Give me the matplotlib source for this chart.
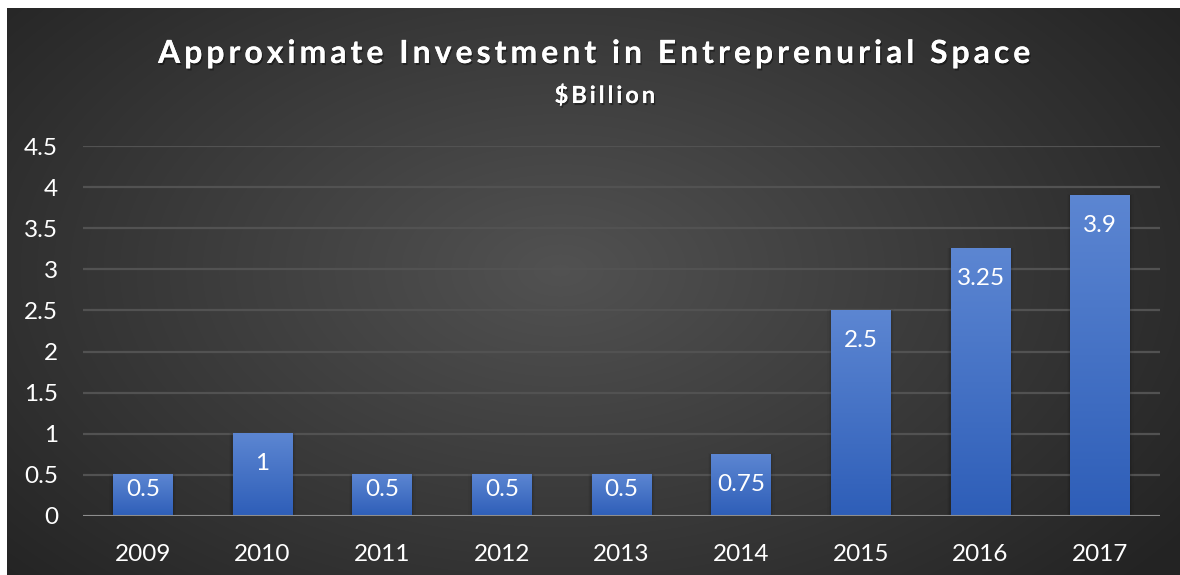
import numpy as np
import matplotlib.pyplot as plt
import matplotlib.patheffects as pe

years = ["2009", "2010", "2011", "2012", "2013", "2014", "2015", "2016", "2017"]
investment = [0.5, 1, 0.5, 0.5, 0.5, 0.75, 2.5, 3.25, 3.9]
value_labels = ["0.5", "1", "0.5", "0.5", "0.5", "0.75", "2.5", "3.25", "3.9"]
y_ticks = [0, 0.5, 1, 1.5, 2, 2.5, 3, 3.5, 4, 4.5]
y_tick_labels = ["0", "0.5", "1", "1.5", "2", "2.5", "3", "3.5", "4", "4.5"]

title = "Approximate Investment in Entreprenurial Space"
subtitle = "$Billion"

plt.rcParams['font.family'] = ['Lato', 'DejaVu Sans']


def spaced(s, sep="\u2009"):
    # fake letter spacing with thin spaces
    return sep.join(s)


W, H = 1180, 575
fig = plt.figure(figsize=(W / 100, H / 100), dpi=100)

# background: dark radial gradient with white margin on left/top
bg = fig.add_axes([0, 0, 1, 1])
bg.axis("off")
yy, xx = np.mgrid[0:H, 0:W]
r = np.sqrt(((xx - 560) / 760) ** 2 + ((yy - 270) / 460) ** 2)
shade = 0.32 - 0.18 * np.clip(r, 0, 1)
img = np.dstack([shade] * 3)
img[:8, :] = 1
img[:, :7] = 1
bg.imshow(img, extent=[0, 1, 0, 1], aspect="auto", interpolation="bilinear")
bg.set_xlim(0, 1)
bg.set_ylim(0, 1)

ax = fig.add_axes([83 / W, 59 / H, 1077 / W, 370 / H])
ax.patch.set_alpha(0)

x = np.arange(len(years))
bars = ax.bar(x, investment, width=0.5, color="none", zorder=3)

grad = np.linspace(0, 1, 100).reshape(-1, 1)
top_c = np.array([0x5c, 0x86, 0xd2]) / 255
bot_c = np.array([0x2e, 0x5e, 0xb8]) / 255
grad_img = (top_c * (1 - grad[..., None]) + bot_c * grad[..., None])
for b in bars:
    x0, w, h = b.get_x(), b.get_width(), b.get_height()
    # soft shadow at the sides
    for k, a in enumerate([0.08, 0.05, 0.03]):
        d = 0.01 * (k + 1)
        ax.add_patch(plt.Rectangle((x0 - d, 0), w + 2 * d, h + d * 0.5,
                                   color="black", alpha=a, lw=0, zorder=2))
    ax.imshow(grad_img, extent=[x0, x0 + w, 0, h], aspect="auto",
              zorder=3, clip_path=b, interpolation="bilinear")

for xi, v, lab in zip(x, investment, value_labels):
    off = min(0.365, v - 0.32)
    ax.text(xi, v - off, lab, ha="center", va="center", color="white",
            fontsize=17.5, zorder=5)

ax.set_xlim(-0.5, len(years) - 0.5)
ax.set_ylim(0, 4.5)
ax.set_yticks(y_ticks)
ax.set_yticklabels(y_tick_labels)
ax.set_xticks(x)
ax.set_xticklabels(years)
ax.tick_params(length=0, colors="white", labelsize=17.5)
ax.tick_params(axis="y", pad=18)
ax.tick_params(axis="x", pad=20)
ax.yaxis.grid(True, color="#525252", lw=1.6, zorder=0)
ax.set_axisbelow(True)
for s in ax.spines.values():
    s.set_visible(False)
ax.axhline(0, color="#8e8e8e", lw=2.2, zorder=4)

shadow = [pe.withSimplePatchShadow(offset=(1, -1.5), alpha=0.4, shadow_rgbFace="black"), pe.Normal()]
fig.text(595 / W, 1 - 63 / H, spaced(title), ha="center", va="baseline",
         color="white", fontsize=23, fontweight="bold", path_effects=shadow)
fig.text(605 / W, 1 - 103 / H, spaced(subtitle), ha="center", va="baseline",
         color="white", fontsize=17, fontweight="bold", path_effects=shadow)

fig.savefig("out.png", dpi=100)
